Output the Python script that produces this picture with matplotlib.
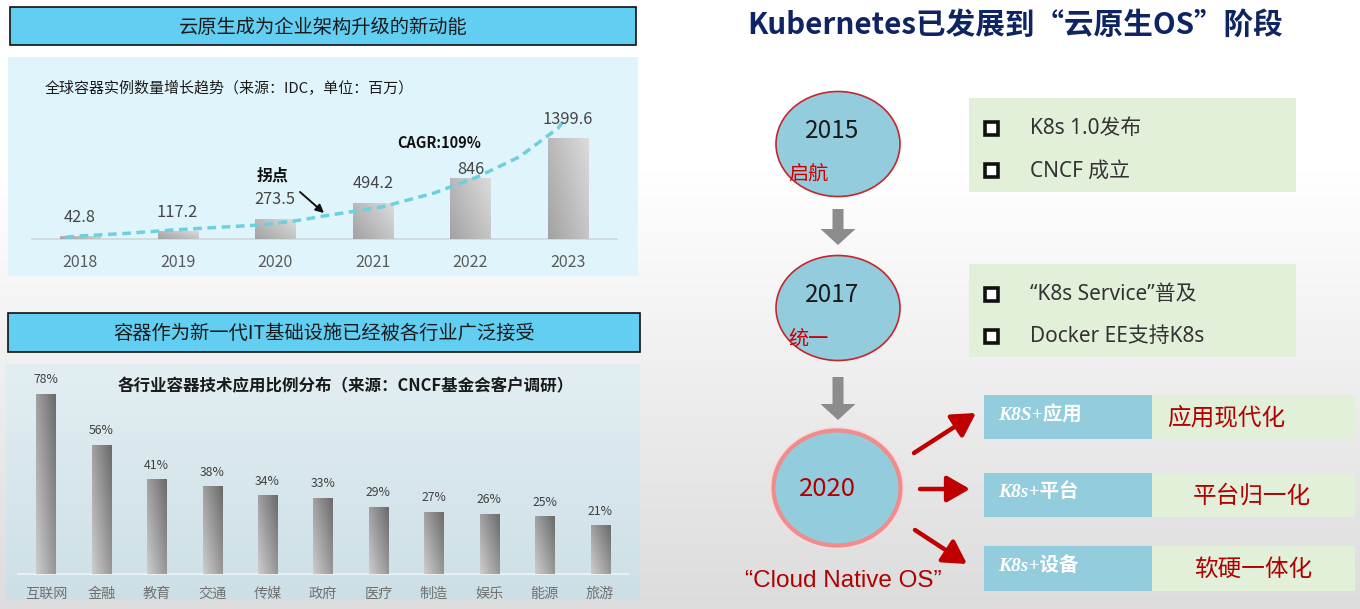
import numpy as np
import matplotlib
matplotlib.use('Agg')
import matplotlib.pyplot as plt
from matplotlib.patches import Rectangle, Ellipse, FancyArrow
from matplotlib.colors import LinearSegmentedColormap

plt.rcParams['font.family'] = ['Noto Sans CJK SC', 'DejaVu Sans']

# ---------------- data ----------------
growth_years = ['2018', '2019', '2020', '2021', '2022', '2023']
growth_values = [42.8, 117.2, 273.5, 494.2, 846, 1399.6]
growth_labels = ['42.8', '117.2', '273.5', '494.2', '846', '1399.6']
# dashed trend curve (position in year-index units, value)
trend_pos = [-0.15, 0.0, 0.5, 0.95, 1.4, 1.84, 2.2, 2.56, 3.09, 3.63, 4.07, 4.5, 4.9, 4.96]
trend_vals = [25, 42, 80, 125, 160, 194, 250, 332, 443, 637, 859, 1136, 1537, 1648]

industries = ['互联网', '金融', '教育', '交通', '传媒', '政府', '医疗', '制造', '娱乐', '能源', '旅游']
industry_pct = [78, 56, 41, 38, 34, 33, 29, 27, 26, 25, 21]

header1 = '云原生成为企业架构升级的新动能'
header2 = '容器作为新一代IT基础设施已经被各行业广泛接受'
chart1_title = '全球容器实例数量增长趋势（来源：IDC，单位：百万）'
chart2_title = '各行业容器技术应用比例分布（来源：CNCF基金会客户调研）'
right_title = 'Kubernetes已发展到“云原生OS”阶段'

stage_years = ['2015', '2017', '2020']
stage_names = ['启航', '统一']
stage_items = [['K8s 1.0发布', 'CNCF 成立'],
               ['“K8s Service”普及', 'Docker EE支持K8s']]
os_tags = ['K8S+应用', 'K8s+平台', 'K8s+设备']
os_results = ['应用现代化', '平台归一化', '软硬一体化']
os_caption = '“Cloud Native OS”'

# ---------------- figure ----------------
W, H = 1360, 609
fig = plt.figure(figsize=(W / 100, H / 100), dpi=100)
bg = fig.add_axes([0, 0, 1, 1])
bg.axis('off')

# page background gradient (white top -> light gray bottom)
ys = np.arange(H)
g = np.clip((ys - 170) / (H - 170), 0, 1)
page = 1 - g
cm_page = LinearSegmentedColormap.from_list('pg', ['#dcdcdc', '#ffffff'])
bg.imshow(page[:, None], extent=(0, W, H, 0), origin='upper', aspect='auto',
          cmap=cm_page, vmin=0, vmax=1, zorder=0)
bg.set_xlim(0, W)
bg.set_ylim(H, 0)

def ax_rect(x0, y0, x1, y1):
    return [x0 / W, 1 - y1 / H, (x1 - x0) / W, (y1 - y0) / H]

# ---------- left panels ----------
for (x0, y0, x1, y1, txt) in [(10, 7, 636, 45, header1), (8, 313, 640, 352, header2)]:
    bg.add_patch(Rectangle((x0, y0), x1 - x0, y1 - y0, fc='#62cff2', ec='#111111', lw=1.2, zorder=1))
    bg.text((x0 + x1) / 2, (y0 + y1) / 2 + 1, txt, ha='center', va='center',
            fontsize=13.9, color='#1a1a1a', zorder=2)

# chart 1 panel
bg.add_patch(Rectangle((8, 57), 630, 219, fc='#e0f5fb', ec='none', zorder=1))
bg.text(45, 88, chart1_title, ha='left', va='center', fontsize=10.8, color='#1a1a1a', zorder=2)

# chart 2 panel (slight vertical gradient)
p2 = np.linspace(0, 1, 100)
cm_p2 = LinearSegmentedColormap.from_list('p2', ['#e2eef2', '#cddfe6'])
bg.imshow(p2[:, None], extent=(6, 640, 600, 364), origin='upper', aspect='auto',
          cmap=cm_p2, vmin=0, vmax=1, zorder=1)
bg.text(346, 386, chart2_title, ha='center', va='center', fontsize=11.9,
        fontweight='bold', color='#1a1a1a', zorder=2)

# annotations for chart 1
bg.text(397, 143, 'CAGR:109%', ha='left', va='center', fontsize=10.5,
        fontweight='bold', color='#111111', zorder=5)
bg.text(273, 176, '拐点', ha='center', va='center', fontsize=11.5,
        fontweight='bold', color='#111111', zorder=5)
bg.annotate('', xy=(324, 213), xytext=(300, 192),
            arrowprops=dict(arrowstyle='-|>', color='#111111', lw=1.4,
                            mutation_scale=12, shrinkA=0, shrinkB=0), zorder=5)

def gradient_bars(ax, bars, colors, wu, wv):
    cm = LinearSegmentedColormap.from_list('bar', colors)
    u = np.linspace(0, 1, 40)[None, :]
    v = np.linspace(0, 1, 80)[:, None]
    grad = wu * u + wv * v
    for b in bars:
        x0, y0, w, h = b.get_x(), b.get_y(), b.get_width(), b.get_height()
        im = ax.imshow(grad, extent=[x0, x0 + w, y0, y0 + h], origin='lower',
                       aspect='auto', cmap=cm, vmin=0, vmax=1, zorder=3)
        im.set_clip_path(b)

# ---- chart 1 axes ----
ax1 = fig.add_axes(ax_rect(32, 100, 617, 239))
ax1.set_facecolor('none')
x1 = np.arange(len(growth_years))
bars1 = ax1.bar(x1, growth_values, width=0.41, color='#b8b8b8', zorder=2)
gradient_bars(ax1, bars1, ['#a2a2a2', '#dcdcdc'], 0.6, 0.4)
ax1.plot(trend_pos, trend_vals, color='#6fd0dd', lw=2.5, dashes=(2.5, 1.6),
         zorder=4, solid_capstyle='butt')
pads1 = [7, 7, 8, 8, 0, 7]
for xi, v, lab, pd in zip(x1, growth_values, growth_labels, pads1):
    ax1.annotate(lab, (xi, v), xytext=(0, pd), textcoords='offset points',
                 ha='center', va='bottom', fontsize=11.8, color='#454545', zorder=5)
ax1.set_xlim(-0.492, 5.502)
ax1.set_ylim(0, 1925)
ax1.set_xticks(x1)
ax1.set_xticklabels(growth_years, fontsize=11.5, color='#5a5a5a')
ax1.tick_params(axis='x', length=0, pad=11)
ax1.set_yticks([])
for s in ['top', 'right', 'left']:
    ax1.spines[s].set_visible(False)
ax1.spines['bottom'].set_color('#cfd8dc')
ax1.spines['bottom'].set_linewidth(1.2)

# ---- chart 2 axes ----
ax2 = fig.add_axes(ax_rect(18, 370, 628, 574))
ax2.set_facecolor('none')
x2 = np.arange(len(industries))
bars2 = ax2.bar(x2, industry_pct, width=0.343, color='#999999', zorder=2)
gradient_bars(ax2, bars2, ['#cdcdcd', '#6a6a6a'], 0.55, 0.45)
for xi, v in zip(x2, industry_pct):
    ax2.annotate(f'{v}%', (xi, v), xytext=(0, 5.5), textcoords='offset points',
                 ha='center', va='bottom', fontsize=8.8, color='#404040', zorder=5)
ax2.set_xlim(-0.505, 10.505)
ax2.set_ylim(0, 88.3)
ax2.set_xticks(x2)
ax2.set_xticklabels(industries, fontsize=10.2, color='#707070')
ax2.tick_params(axis='x', length=0, pad=9.5)
ax2.set_yticks([])
for s in ['top', 'right', 'left']:
    ax2.spines[s].set_visible(False)
ax2.spines['bottom'].set_color('#eef4f6')
ax2.spines['bottom'].set_linewidth(1.2)

# ---------- right side ----------
bg.text(1015, 25, right_title, ha='center', va='center', fontsize=21.3,
        fontweight='bold', color='#0f2462', zorder=5)

circ_fc = '#93cddd'
for cy, yr, nm in [(144, stage_years[0], stage_names[0]), (308, stage_years[1], stage_names[1])]:
    bg.add_patch(Ellipse((838, cy), 124, 105, fc=circ_fc, ec='#c3262c', lw=1.2, zorder=3))
    bg.text(832, cy - 13, yr, ha='center', va='center', fontsize=17.5, color='#1a1a1a', zorder=4)
    bg.text(808, cy + 31, nm, ha='center', va='center', fontsize=14.5, color='#cc0000', zorder=4)

# gray down arrows
for y0, y1 in [(209, 245), (377, 420)]:
    bg.add_patch(FancyArrow(838, y0, 0, y1 - y0, width=11, head_width=35, head_length=16,
                            length_includes_head=True, color='#8c8c8c', lw=0, zorder=3))

# 2020 circle
bg.add_patch(Ellipse((837, 488), 129, 117, fc='none', ec='#f6dada', lw=4, zorder=2))
bg.add_patch(Ellipse((837, 488), 127, 115, fc=circ_fc, ec='#f08c8c', lw=3.0, zorder=3))
bg.text(827, 489, stage_years[2], ha='center', va='center', fontsize=18.5, color='#b00000', zorder=4)
bg.text(843, 581, os_caption, ha='center', va='center', fontsize=17.5,
        family=['Liberation Sans', 'Noto Sans CJK SC'], color='#b00000', zorder=4)

# green info boxes with checkbox items
green = '#e2f0d9'
for (y0, y1), items in zip([(98, 192), (264, 357)], stage_items):
    bg.add_patch(Rectangle((969, y0), 327, y1 - y0, fc=green, ec='none', zorder=2))
    iy = [y0 + 31, y0 + 73]
    for yy, it in zip(iy, items):
        bg.add_patch(Rectangle((985, yy - 7), 13, 13, fc='white', ec='#111111', lw=2.6, zorder=4))
        bg.text(1030, yy, it, ha='left', va='center', fontsize=15,
                family=['Noto Sans', 'Noto Sans CJK SC'], color='#333333', zorder=4)

# OS rows
rows = [(395, 439), (473, 517), (546, 591)]
res_x = [1226, 1252, 1253]
for (y0, y1), tag, res, rx in zip(rows, os_tags, os_results, res_x):
    bg.add_patch(Rectangle((984, y0), 168, y1 - y0, fc=circ_fc, ec='none', zorder=2))
    bg.add_patch(Rectangle((1152, y0), 203, y1 - y0, fc=green, ec='none', zorder=2))
    bg.text(998, (y0 + y1) / 2 - 3, tag, ha='left', va='center', fontsize=14,
            family=['Liberation Serif', 'Noto Sans CJK SC'], style='italic',
            fontweight='bold', color='white', zorder=4)
    bg.text(rx, (y0 + y1) / 2 + 1, res, ha='center', va='center', fontsize=17,
            color='#b00000', zorder=4)

# red arrows
for (xs, ys_), (xe, ye) in [((914, 453), (976, 413)), ((920, 489), (970, 489)),
                            ((915, 530), (967, 564))]:
    bg.annotate('', xy=(xe, ye), xytext=(xs, ys_),
                arrowprops=dict(arrowstyle='-|>,head_length=0.7,head_width=0.4',
                                color='#c00000', lw=3.2, mutation_scale=20,
                                shrinkA=0, shrinkB=0), zorder=4)

fig.savefig('out.png', dpi=100)
